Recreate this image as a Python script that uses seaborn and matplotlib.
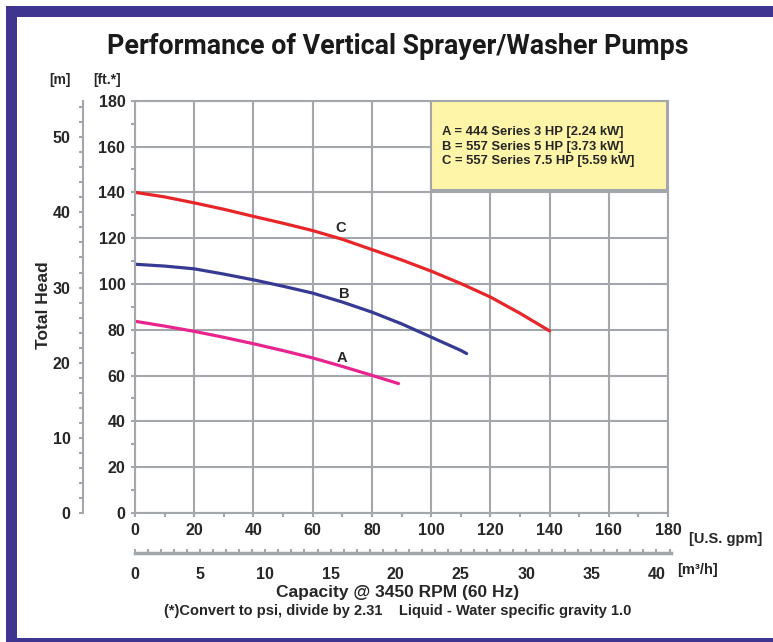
import numpy as np
import pandas as pd
import matplotlib.pyplot as plt
import matplotlib.patches as patches
from matplotlib.ticker import MultipleLocator
import seaborn as sns

sns.set_style("white")
plt.rcParams['font.family'] = ['Liberation Sans', 'DejaVu Sans']
plt.rcParams['font.weight'] = 'bold'

# pump curves (gpm, ft)
gpm_A = [0, 10, 20, 30, 40, 50, 60, 70, 80, 89]
head_A = [83.7, 81.6, 79.3, 76.7, 73.9, 70.9, 67.7, 64.0, 60.1, 56.5]
gpm_B = [0, 10, 20, 30, 40, 50, 60, 70, 80, 90, 100, 110, 112]
head_B = [108.6, 107.8, 106.6, 104.3, 101.8, 99.0, 96.0, 92.1, 87.7, 82.6, 76.8, 71.0, 69.6]
gpm_C = [0, 10, 20, 30, 40, 50, 60, 70, 80, 90, 100, 110, 120, 130, 140]
head_C = [140.0, 138.0, 135.4, 132.6, 129.5, 126.5, 123.3, 119.5, 115.0, 110.5, 105.6, 100.2, 94.3, 87.2, 79.5]

curve_names = ['A', 'B', 'C']
curve_colors = {'A': '#e8258f', 'B': '#363a93', 'C': '#e8262a'}
label_pos = {'A': (70, 67.5), 'B': (70.5, 95.5), 'C': (69.5, 124.5)}
legend_lines = ['A = 444 Series 3 HP [2.24 kW]',
                'B = 557 Series 5 HP [3.73 kW]',
                'C = 557 Series 7.5 HP [5.59 kW]']

df = pd.concat([
    pd.DataFrame({'gpm': gpm_A, 'head': head_A, 'pump': 'A'}),
    pd.DataFrame({'gpm': gpm_B, 'head': head_B, 'pump': 'B'}),
    pd.DataFrame({'gpm': gpm_C, 'head': head_C, 'pump': 'C'}),
])

W, H = 773, 642
fig = plt.figure(figsize=(W / 100, H / 100), dpi=100)
grey = '#a3a7ab'
tick_fs = 11.5

def box(x0, y0, x1, y1):
    # pixel box -> figure fraction rect
    return [x0 / W, 1 - y1 / H, (x1 - x0) / W, (y1 - y0) / H]

# main plot
ax = fig.add_axes(box(135, 100.7, 668, 513))
sns.lineplot(data=df, x='gpm', y='head', hue='pump', palette=curve_colors,
             linewidth=2.3, legend=False, ax=ax, sort=False)
ax.set_xlim(0, 180)
ax.set_ylim(0, 180)
ax.xaxis.set_major_locator(MultipleLocator(20))
ax.yaxis.set_major_locator(MultipleLocator(20))
ax.xaxis.set_minor_locator(MultipleLocator(10))
ax.yaxis.set_minor_locator(MultipleLocator(10))
ax.grid(True, which='major', color=grey, linewidth=1.5)
ax.set_axisbelow(True)
for s in ax.spines.values():
    s.set_color(grey)
    s.set_linewidth(1.5)
ax.tick_params(which='both', left=True, bottom=True, direction='out', color=grey, width=1.5)
ax.tick_params(which='major', length=3, labelsize=tick_fs, pad=4)
ax.tick_params(which='minor', length=3)
ax.set_xlabel('')
ax.set_ylabel('')
for t in ax.get_xticklabels() + ax.get_yticklabels():
    t.set_fontweight('bold')

for name in curve_names:
    x, y = label_pos[name]
    ax.text(x, y, name, fontsize=10.5, fontweight='bold', ha='center', va='center')

ax.add_patch(patches.Rectangle((99.8, 140.8), 79.8, 39.0, facecolor='#fff5a8',
                               edgecolor=grey, linewidth=1.5, zorder=3))
for i, line in enumerate(legend_lines):
    ax.text(103.8, 166.3 - i * 6.3, line, fontsize=9.4, fontweight='bold',
            ha='left', va='center', zorder=4)

# metres axis
axm = fig.add_axes(box(83, 100.7, 84, 513))
axm.set_ylim(0, 180 / 3.281)
axm.set_xticks([])
axm.patch.set_alpha(0)
for k in ['top', 'right', 'bottom']:
    axm.spines[k].set_visible(False)
axm.spines['left'].set_color(grey)
axm.spines['left'].set_linewidth(1.5)
axm.yaxis.set_major_locator(MultipleLocator(10))
axm.yaxis.set_minor_locator(MultipleLocator(2))
axm.tick_params(which='both', left=True, direction='out', color=grey, width=1.5, length=3)
axm.tick_params(which='major', labelsize=tick_fs, pad=6)
for t in axm.get_yticklabels():
    t.set_fontweight('bold')

# m3/h axis
axq = fig.add_axes(box(135, 552, 671, 553))
axq.set_xlim(0, (671 - 135) / 533 * 180 / 4.4029)
axq.set_yticks([])
axq.patch.set_alpha(0)
for k in ['top', 'right', 'left']:
    axq.spines[k].set_visible(False)
axq.spines['bottom'].set_color(grey)
axq.spines['bottom'].set_linewidth(2.5)
axq.xaxis.set_major_locator(MultipleLocator(5))
axq.xaxis.set_minor_locator(MultipleLocator(1))
axq.tick_params(which='both', bottom=True, direction='in', color=grey, width=1.5, length=3)
axq.tick_params(which='major', labelsize=tick_fs, pad=10)
for t in axq.get_xticklabels():
    t.set_fontweight('bold')

# title, shrunk to the width of the original
title = fig.text(398 / W, 1 - 46 / H, 'Performance of Vertical Sprayer/Washer Pumps',
                 family=['Roboto', 'Liberation Sans'], fontsize=21,
                 fontweight='bold', ha='center', va='center', color='#1a1a1a')
fig.canvas.draw()
tw = title.get_window_extent().width
title.set_fontsize(21 * 580 / tw)

fig.text(60 / W, 1 - 80 / H, '[m]', fontsize=10, fontweight='bold', ha='center', va='center')
fig.text(107 / W, 1 - 80 / H, '[ft.*]', fontsize=10, fontweight='bold', ha='center', va='center')
fig.text(43 / W, 1 - 305 / H, 'Total Head', fontsize=12.5, fontweight='bold',
         rotation=90, ha='center', va='center')
fig.text(689 / W, 1 - 539 / H, '[U.S. gpm]', fontsize=10.5, fontweight='bold', ha='left', va='center')
fig.text(677 / W, 1 - 570 / H, '[m³/h]', fontsize=10.5, fontweight='bold', ha='left', va='center')
fig.text(398 / W, 1 - 593 / H, 'Capacity @ 3450 RPM (60 Hz)', fontsize=12.5,
         fontweight='bold', ha='center', va='center')
fig.text(398 / W, 1 - 611 / H,
         '(*)Convert to psi, divide by 2.31    Liquid - Water specific gravity 1.0',
         fontsize=10.5, fontweight='bold', ha='center', va='center')

# frame
frame = '#3f3590'
fig.patches.append(patches.Rectangle((6 / W, 0), 10.5 / W, 1 - 6 / H, transform=fig.transFigure,
                                     facecolor=frame, edgecolor='none'))
fig.patches.append(patches.Rectangle((6 / W, 1 - 16.5 / H), 1, 10.5 / H, transform=fig.transFigure,
                                     facecolor=frame, edgecolor='none'))
fig.patches.append(patches.Rectangle((6 / W, 0), 1, 4.5 / H, transform=fig.transFigure,
                                     facecolor=frame, edgecolor='none'))

fig.savefig('out.png', dpi=100)
